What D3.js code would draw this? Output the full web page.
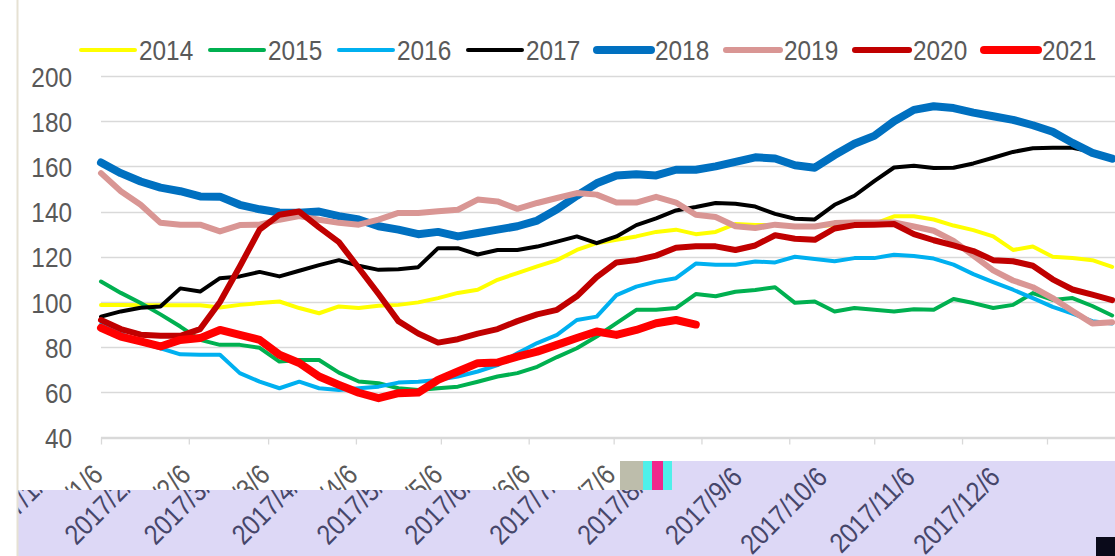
<!DOCTYPE html>
<html>
<head>
<meta charset="utf-8">
<script src="https://cdnjs.cloudflare.com/ajax/libs/d3/7.8.5/d3.min.js"></script>
<style>
    body { margin: 0; background: #fff; }
    svg { display: block; }
    text { font-family: "Liberation Sans Narrow", "Arial Narrow", "Liberation Sans", Arial, sans-serif; }
</style>
</head>
<body>
<svg id="chart" width="1115" height="556"></svg>
<script>
// weekly points, first week 2017/1/6
var firstWeek = "2017/1/6";
var weekCount = 52;

var tickLabels = ["2017/1/6", "2017/2/6", "2017/3/6", "2017/4/6", "2017/5/6", "2017/6/6",
    "2017/7/6", "2017/8/6", "2017/9/6", "2017/10/6", "2017/11/6", "2017/12/6"];
var yTicks = [40, 60, 80, 100, 120, 140, 160, 180, 200];
var years = ["2014", "2015", "2016", "2017", "2018", "2019", "2020", "2021"];

var s2014 = [98.7, 98.7, 98.5, 98.5, 98.5, 98.5, 97.5, 98.7, 99.5, 100.2, 97.3, 95, 98, 97.3, 98.3, 98.7, 99.8, 101.7, 104, 105.4,
    109.8, 112.8, 115.7, 118.5, 123, 126, 127.5, 129, 131, 132, 130, 131, 134.5, 134, 134, 133.5, 133.5, 134, 134, 134.5,
    137.9, 137.9, 136.5, 133.8, 131.8, 129, 123, 124.5, 120, 119.4, 118.5, 115.5];
var s2015 = [109, 104, 99.5, 94.5, 89.1, 83.2, 81, 81, 79.7, 73.6, 74.3, 74.3, 68.7, 64.8, 64, 61.8, 61, 61.8, 62.5, 64.7,
    67, 68.5, 71.3, 75.6, 79.5, 84.7, 90.6, 96.5, 96.5, 97.3, 103.5, 102.5, 104.5, 105.3, 106.5, 99.6, 100.2, 95.8, 97.3, 96.5,
    95.8, 96.8, 96.5, 101.3, 99.5, 97.3, 98.7, 103.9, 100.9, 101.7, 98.2, 94];
var s2016 = [90, 86, 82, 79.5, 76.8, 76.6, 76.6, 68.5, 64.7, 61.8, 64.7, 61.8, 61, 61.8, 62.5, 64.3, 64.7, 65.5, 67, 69.2,
    72, 77.3, 81.8, 85.4, 92, 93.5, 103, 106.8, 109, 110.5, 117, 116.5, 116.5, 117.9, 117.5, 120, 119, 118, 119.4, 119.4,
    120.9, 120.3, 119.2, 116.5, 112.3, 108.8, 105.4, 101.7, 97.8, 94.8, 91.5, 90.5];
var s2017 = [93.5, 95.8, 97.4, 98, 106, 104.6, 110.5, 111.3, 113.3, 111.3, 113.8, 116.3, 118.5, 116, 114.2, 114.5, 115.4, 123.8, 123.8, 121,
    123, 123, 124.5, 126.7, 129, 126, 129, 134, 137, 140.5, 142, 143.8, 143.5, 142.2, 139, 136.8, 136.5, 143, 147, 153.5,
    159.5, 160.3, 159.3, 159.4, 161.3, 163.8, 166.4, 168, 168.2, 168.2, 166.5, 164];
var s2018 = [161.7, 157, 153.3, 150.6, 149, 146.7, 146.6, 143, 141, 139.6, 139.5, 140, 138, 136.5, 133.5, 132, 130, 131, 129, 130.5,
    132, 133.5, 136, 141, 147, 152.5, 156, 156.5, 156, 158.5, 158.5, 160, 162, 164, 163.5, 160.5, 159.4, 165, 170, 173.5,
    180, 185, 186.6, 185.8, 183.8, 182.2, 180.6, 178.2, 175.3, 170.4, 166, 163.4];
var s2019 = [157, 149, 143, 135, 134.2, 134.2, 131.2, 134, 134.2, 136.4, 138, 136.4, 135, 134.2, 136.4, 139.4, 139.4, 140.1, 140.8, 145.3,
    144.5, 141.2, 143.8, 146, 148.2, 147.5, 144, 144, 146.5, 144, 138.6, 137.6, 133.5, 132.7, 134.2, 133.4, 133.4, 134.9, 135.2, 135.2,
    135.2, 133.4, 131.5, 127, 120.5, 114, 109.5, 106.5, 101.7, 96, 90.5, 91];
var s2020 = [92, 88, 85.5, 85, 85, 88, 100, 115.7, 132, 138.6, 140, 133, 126.5, 115, 103.5, 91.5, 86, 82, 83.5, 86,
    88, 91.5, 94.5, 96.5, 102.5, 111, 117.5, 118.5, 120.5, 124, 124.6, 124.6, 123, 125, 129.5, 128, 127.5, 132.5, 134, 134.2,
    134.5, 130, 127.3, 125, 122.5, 118.5, 118, 116, 110, 105.5, 103.2, 100.8];
var s2021 = [88.5, 84.7, 82.5, 80.3, 83.2, 84, 87.6, 85.4, 83.2, 76.6, 73, 67, 63.3, 59.8, 57.4, 59.6, 59.9, 65.5, 69.2, 72.9,
    73.2, 75.8, 78, 81, 84, 86.9, 85.4, 87.6, 90.6, 92, 90];

var allValues = [s2014, s2015, s2016, s2017, s2018, s2019, s2020, s2021];
var lineColors = ["#ffff00", "#00b050", "#00b0f0", "#000000", "#0070c0", "#d99694", "#c00000", "#ff0000"];
var lineWidths = [4, 4, 4, 4, 8, 6, 6, 8];

var parse = d3.timeParse("%Y/%m/%d");
var tickDates = tickLabels.map(parse);
var weeks = d3.range(weekCount).map(function (i) {
    return d3.timeDay.offset(parse(firstWeek), 7 * i);
});

var svg = d3.select("#chart");
var W = 1115, H = 556;
var textColor = "#595959";
var squeeze = "scale(0.87,1)";   // no narrow font installed, so condense the glyphs

var x = d3.scaleTime().domain([tickDates[0], tickDates[11]]).range([101, 1047]);
var y = d3.scaleLinear().domain([40, 200]).range([437.5, 76]);

svg.append("rect").attr("width", W).attr("height", H).attr("fill", "#fff");

// gridlines
svg.append("g").selectAll("line")
    .data(yTicks)
    .enter().append("line")
    .attr("x1", x(tickDates[0])).attr("x2", W)
    .attr("y1", function (d) { return Math.round(y(d)) + 0.5; })
    .attr("y2", function (d) { return Math.round(y(d)) + 0.5; })
    .attr("stroke", "#d9d9d9").attr("stroke-width", 1.3);

// y labels
var yAxis = svg.append("g")
    .attr("transform", "translate(72,0)")
    .call(d3.axisLeft(y).tickValues(yTicks).tickSize(0).tickPadding(0));
yAxis.select(".domain").remove();
yAxis.selectAll("text")
    .attr("x", 0)
    .attr("transform", squeeze)
    .attr("fill", textColor)
    .style("font-size", "28px")
    .attr("dy", "0.36em");

// x axis labels
function xLabels(g, color) {
    g.call(d3.axisBottom(x).tickValues(tickDates).tickSize(7)
        .tickFormat(function (d, i) { return tickLabels[i]; }));
    g.select(".domain").remove();
    g.selectAll(".tick line").attr("stroke", "#d9d9d9").attr("stroke-width", 1.3);
    g.selectAll("text")
        .attr("x", 0).attr("y", 0).attr("dy", 0)
        .attr("text-anchor", "end")
        .attr("transform", "translate(3,39) rotate(-45) " + squeeze)
        .attr("fill", color)
        .style("font-size", "28px");
}
svg.append("g").attr("transform", "translate(0,437.5)").call(xLabels, textColor);

// pasted band over the bottom of the picture
var bandLeft = 17, bandStep = 620, bandTopL = 490, bandTopR = 461;
var bandPath = "M" + bandLeft + "," + H + "V" + bandTopL + "H" + bandStep + "V" + bandTopR + "H" + W + "V" + H + "Z";
svg.append("clipPath").attr("id", "band-clip").append("path").attr("d", bandPath);
svg.append("path").attr("d", bandPath).attr("fill", "#ddd8f6");

var lower = svg.append("g").attr("clip-path", "url(#band-clip)")
    .append("g").attr("transform", "translate(-49,440)").call(xLabels, "#46466a");
lower.selectAll(".tick line").remove();

svg.append("rect").attr("x", bandStep).attr("y", bandTopR).attr("width", 23).attr("height", bandTopL - bandTopR).attr("fill", "#bdbdab");
svg.append("rect").attr("x", bandStep + 23).attr("y", bandTopR).attr("width", 9).attr("height", 29).attr("fill", "#4ff0ea");
svg.append("rect").attr("x", bandStep + 32).attr("y", bandTopR).attr("width", 11).attr("height", 29).attr("fill", "#f0288c");
svg.append("rect").attr("x", bandStep + 43).attr("y", bandTopR).attr("width", 9).attr("height", 29).attr("fill", "#4ff0ea");
svg.append("rect").attr("x", W - 19).attr("y", 537).attr("width", 19).attr("height", H - 537).attr("fill", "#0a0a1a");

// axis line
svg.append("line")
    .attr("x1", x(tickDates[0])).attr("x2", W)
    .attr("y1", 437.5).attr("y2", 437.5)
    .attr("stroke", "#d9d9d9").attr("stroke-width", 1.3);

// left border of the picture
svg.append("line").attr("x1", 17.5).attr("x2", 17.5).attr("y1", 0).attr("y2", H)
    .attr("stroke", "#e6e1d3").attr("stroke-width", 2);

// series
var line = d3.line()
    .x(function (d, i) { return x(weeks[i]); })
    .y(function (d) { return y(d); });

svg.append("g").selectAll("path")
    .data(allValues)
    .enter().append("path")
    .attr("d", line)
    .attr("fill", "none")
    .attr("stroke", function (d, i) { return lineColors[i]; })
    .attr("stroke-width", function (d, i) { return lineWidths[i]; })
    .attr("stroke-linejoin", "round")
    .attr("stroke-linecap", "round");

// legend
var legend = svg.append("g").selectAll("g")
    .data(years)
    .enter().append("g")
    .attr("transform", function (d, i) { return "translate(" + (81 + 129 * i) + ",50)"; });

legend.append("line")
    .attr("x1", 0).attr("x2", 54)
    .attr("stroke", function (d, i) { return lineColors[i]; })
    .attr("stroke-width", function (d, i) { return lineWidths[i]; })
    .attr("stroke-linecap", "round");

legend.append("text")
    .attr("x", 0).attr("y", 0)
    .attr("transform", "translate(58,10) " + squeeze)
    .attr("fill", textColor)
    .style("font-size", "28px")
    .text(function (d) { return d; });
</script>
</body>
</html>
